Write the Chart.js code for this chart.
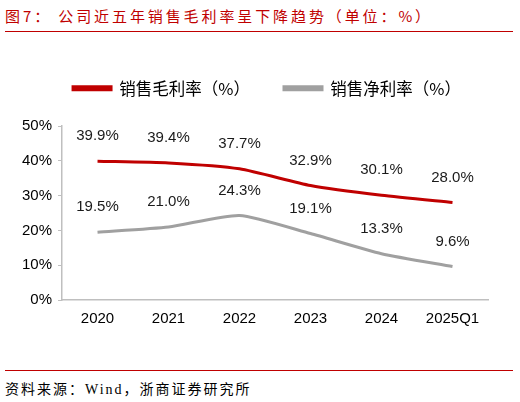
<!DOCTYPE html>
<html>
<head>
<meta charset="utf-8">
<script src="https://cdn.jsdelivr.net/npm/chart.js@4"></script>
<style>
  body { margin: 0; width: 520px; height: 402px; background: #fff; position: relative; overflow: hidden; }
  #title { position: absolute; left: 5px; top: 5px; font: 15px "Noto Sans CJK SC", sans-serif; color: #C00000; white-space: pre; letter-spacing: 2.9px; }
  #topline { position: absolute; left: 5px; top: 31px; width: 508px; height: 1px; background: #C00000; }
  #wrap { position: absolute; left: 0; top: 38px; width: 520px; height: 325px; }
  #botline { position: absolute; left: 5px; top: 370px; width: 508px; height: 1px; background: #C00000; }
  #source { position: absolute; left: 5px; top: 378px; font: 14px "Liberation Serif", "Noto Sans CJK SC", serif; color: #000; letter-spacing: 2px; }
</style>
</head>
<body>
<div id="title">图7： 公司近五年销售毛利率呈下降趋势（单位：%）</div>
<div id="topline"></div>
<div id="wrap"><canvas id="chart"></canvas></div>
<div id="botline"></div>
<div id="source">资料来源：Wind，浙商证券研究所</div>
<script>
// chart data
const years = ["2020", "2021", "2022", "2023", "2024", "2025Q1"];
const grossMargin = [39.9, 39.4, 37.7, 32.9, 30.1, 28.0];
const netMargin = [19.5, 21.0, 24.3, 19.1, 13.3, 9.6];
const yTicks = [0, 10, 20, 30, 40, 50];

// draws value labels above each point
const valueLabels = {
  id: "valueLabels",
  afterDatasetsDraw(chart) {
    const ctx = chart.ctx;
    ctx.save();
    ctx.font = "15px 'Liberation Sans', Arial, sans-serif";
    ctx.fillStyle = "#1a1a1a";
    ctx.textAlign = "center";
    ctx.textBaseline = "middle";
    chart.data.datasets.forEach((ds, i) => {
      chart.getDatasetMeta(i).data.forEach((pt, j) => {
        ctx.fillText(ds.data[j].toFixed(1) + "%", pt.x, pt.y - 25);
      });
    });
    ctx.restore();
  },
};

// fixed legend block height so the plot starts where it should,
// and nudge the legend a bit to the right
const legendPlace = {
  id: "legendPlace",
  afterInit(chart) {
    const lg = chart.legend;
    const fit = lg.fit;
    lg.fit = function () {
      fit.call(this);
      this.height = 80;
    };
  },
  afterLayout(chart) {
    chart.legend.left += 15;
    chart.legend.right += 15;
  },
};

new Chart(document.getElementById("chart"), {
  type: "line",
  data: {
    labels: years,
    datasets: [
      {
        label: "销售毛利率（%）",
        data: grossMargin,
        borderColor: "#C00000",
        backgroundColor: "#C00000",
        borderWidth: 3,
        pointRadius: 0,
        tension: 0.2,
      },
      {
        label: "销售净利率（%）",
        data: netMargin,
        borderColor: "#A0A0A0",
        backgroundColor: "#A0A0A0",
        borderWidth: 3,
        pointRadius: 0,
        tension: 0.2,
      },
    ],
  },
  options: {
    responsive: true,
    maintainAspectRatio: false,
    animation: false,
    layout: { padding: { left: 16, right: 32, top: 8, bottom: 25 } },
    plugins: {
      legend: {
        position: "top",
        labels: {
          font: { size: 16.5, family: "'Noto Sans CJK SC', sans-serif" },
          color: "#000",
          boxWidth: 38,
          boxHeight: 3,
          padding: 34,
        },
      },
      tooltip: { enabled: false },
    },
    scales: {
      x: {
        offset: true,
        grid: { display: false, drawTicks: false },
        border: { color: "#BFBFBF", width: 1.5 },
        ticks: { font: { size: 15, family: "'Liberation Sans', Arial" }, color: "#000", padding: 10 },
      },
      y: {
        min: 0,
        max: 50,
        afterBuildTicks: (axis) => { axis.ticks = yTicks.map((v) => ({ value: v })); },
        grid: { drawOnChartArea: false, tickLength: 4, color: "#BFBFBF" },
        border: { color: "#BFBFBF", width: 1.5 },
        ticks: {
          font: { size: 15, family: "'Liberation Sans', Arial" },
          color: "#000",
          padding: 6,
          callback: (v) => v + "%",
        },
      },
    },
  },
  plugins: [valueLabels, legendPlace],
});
</script>
</body>
</html>
